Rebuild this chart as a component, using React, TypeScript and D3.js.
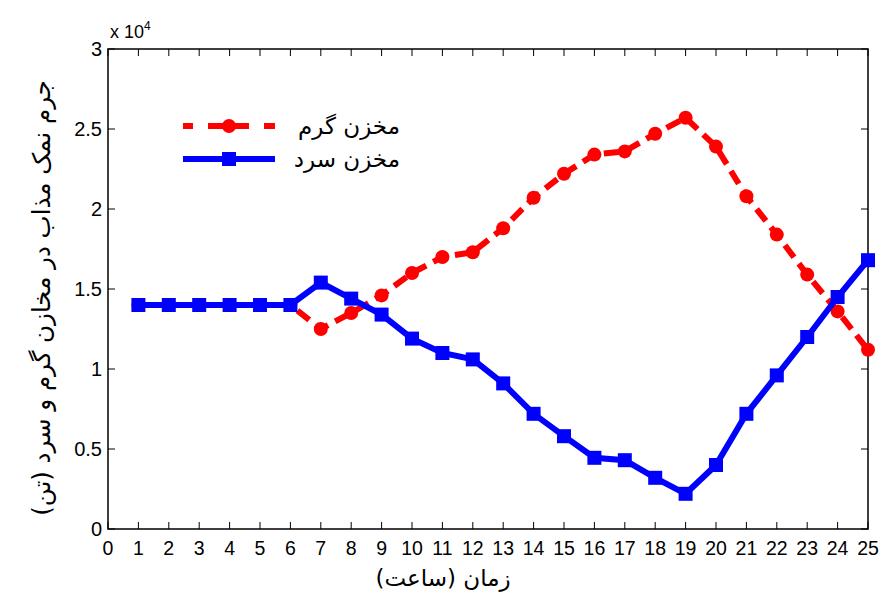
import React from "react";
import * as d3 from "d3";

const hours = [1,2,3,4,5,6,7,8,9,10,11,12,13,14,15,16,17,18,19,20,21,22,23,24,25];
const hotTank = [14000,14000,14000,14000,14000,14000,12500,13500,14600,16000,17000,17300,18800,20700,22200,23400,23600,24700,25700,23900,20800,18400,15900,13600,11200];
const coldTank = [14000,14000,14000,14000,14000,14000,15400,14400,13400,11900,11000,10600,9100,7200,5800,4450,4300,3200,2200,4000,7200,9600,12000,14500,16800];
const xTicks = d3.range(0, 26);
const yTicks = [0, 5000, 10000, 15000, 20000, 25000, 30000];
const yTickLabels = ["0", "0.5", "1", "1.5", "2", "2.5", "3"];
const hotLabel = "مخزن گرم";
const coldLabel = "مخزن سرد";
const xLabel = "زمان (ساعت)";
const yLabel = "جرم نمک مذاب در مخازن گرم و سرد (تن)";

export default function App() {
  const W = 892, H = 592;
  const L = 108, R = 868, T = 49, B = 529;
  const x = d3.scaleLinear().domain([0, 25]).range([L, R]);
  const y = d3.scaleLinear().domain([0, 30000]).range([B, T]);
  const line = d3.line<number>().x((_, i) => x(hours[i])).y((d) => y(d));
  const font = "'Liberation Sans', Arial, sans-serif";
  const afont = "'DejaVu Sans', sans-serif";
  const tk = 7;
  return (
    <svg width={W} height={H} style={{ position: "absolute", left: 0, top: 0 }}>
      <rect width={W} height={H} fill="white" />
      {xTicks.map((t) => (
        <g key={"x" + t}>
          <line x1={x(t)} x2={x(t)} y1={B} y2={B - tk} stroke="black" strokeWidth={1} />
          <line x1={x(t)} x2={x(t)} y1={T} y2={T + tk} stroke="black" strokeWidth={1} />
          <text x={x(t)} y={555} textAnchor="middle" fontFamily={font} fontSize={19.5}>{t}</text>
        </g>
      ))}
      {yTicks.map((t, i) => (
        <g key={"y" + t}>
          <line x1={L} x2={L + tk} y1={y(t)} y2={y(t)} stroke="black" strokeWidth={1} />
          <line x1={R} x2={R - tk} y1={y(t)} y2={y(t)} stroke="black" strokeWidth={1} />
          <text x={L - 6} y={y(t) + 7} textAnchor="end" fontFamily={font} fontSize={20}>{yTickLabels[i]}</text>
        </g>
      ))}
      <rect x={L} y={T} width={R - L} height={B - T} fill="none" stroke="black" strokeWidth={1.5} />
      <text x={110} y={38} fontFamily={font} fontSize={18}>x 10<tspan dy={-8} fontSize={12}>4</tspan></text>

      <path d={line(hotTank) || ""} fill="none" stroke="#ff0000" strokeWidth={6} strokeDasharray="15 8" />
      {hotTank.map((v, i) => (
        <circle key={"h" + i} cx={x(hours[i])} cy={y(v)} r={7} fill="#ff0000" />
      ))}
      <path d={line(coldTank) || ""} fill="none" stroke="#0000ff" strokeWidth={6} />
      {coldTank.map((v, i) => (
        <rect key={"c" + i} x={x(hours[i]) - 7} y={y(v) - 7} width={14} height={14} fill="#0000ff" />
      ))}

      <line x1={183} x2={275} y1={126} y2={126} stroke="#ff0000" strokeWidth={6} strokeDasharray="10 15 41 15 11" />
      <circle cx={229} cy={126} r={7} fill="#ff0000" />
      <text x={400} y={134} textAnchor="start" fontFamily={afont} fontSize={23} direction="rtl">{hotLabel}</text>
      <line x1={183} x2={275} y1={159} y2={159} stroke="#0000ff" strokeWidth={6} />
      <rect x={222} y={152} width={14} height={14} fill="#0000ff" />
      <text x={400} y={167} textAnchor="start" fontFamily={afont} fontSize={23} direction="rtl">{coldLabel}</text>

      <text x={443} y={586} textAnchor="middle" fontFamily={afont} fontSize={23} direction="rtl">{xLabel}</text>
      <text transform={`translate(50,298) rotate(-90)`} textAnchor="middle" fontFamily={afont} fontSize={24.5} direction="rtl">{yLabel}</text>
    </svg>
  );
}
